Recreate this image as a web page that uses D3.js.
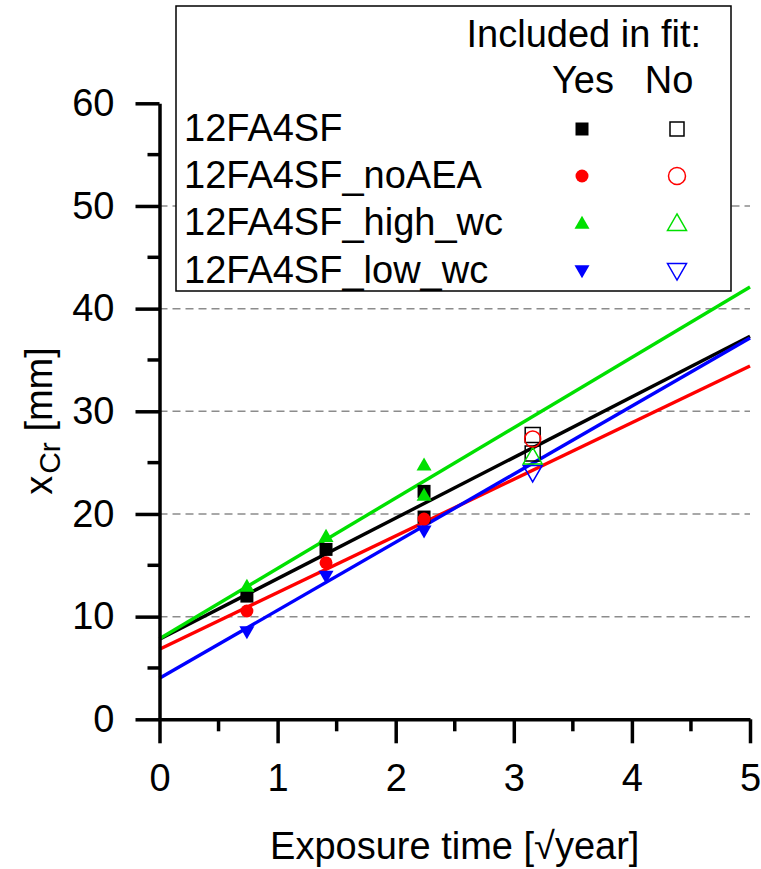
<!DOCTYPE html>
<html>
<head>
<meta charset="utf-8">
<script src="https://cdn.jsdelivr.net/npm/d3@7"></script>
<style>
  html, body { margin: 0; padding: 0; background: #fff; }
  svg { display: block; font-family: "Liberation Sans", Arial, sans-serif; }
</style>
</head>
<body>
<svg id="chart" width="761" height="869"></svg>
<script>
// Series names and colours
const seriesNames = ["12FA4SF", "12FA4SF_noAEA", "12FA4SF_high_wc", "12FA4SF_low_wc"];
const seriesColors = ["#000000", "#ff0000", "#00e000", "#0000ff"];
const seriesShapes = ["square", "circle", "triangleUp", "triangleDown"];

// Exposure time (sqrt year) and penetration depth xCr (mm)
// Points used in the linear fit
const fitX = [
  [0.74, 1.41, 2.24, 2.24],
  [0.74, 1.41, 2.24],
  [0.74, 1.41, 2.24, 2.24],
  [0.74, 1.41, 2.24]
];
const fitY = [
  [12.0, 16.55, 22.2, 19.7],
  [10.55, 15.25, 19.5],
  [13.0, 17.85, 24.8, 21.85],
  [8.5, 13.9, 18.3]
];
// Points left out of the fit
const exclX = [[3.16, 3.16], [3.16], [3.16], [3.16]];
const exclY = [[27.7, 25.9], [27.3], [25.6], [24.0]];

// Linear fit lines: xCr = intercept + slope * t
const fitIntercept = [7.8, 6.82, 7.85, 3.99];
const fitSlope = [5.9, 5.52, 6.85, 6.63];

// Axes
const xTicks = [0, 1, 2, 3, 4, 5];
const yTicks = [0, 10, 20, 30, 40, 50, 60];
const gridValues = [10, 20, 30, 40, 50];

const svg = d3.select("#chart");
const x = d3.scaleLinear().domain([0, 5]).range([159.5, 750]);
const y = d3.scaleLinear().domain([0, 60]).range([719.3, 103.3]);

// dashed grid
svg.append("g").selectAll("line").data(gridValues).join("line")
  .attr("x1", x(0)).attr("x2", x(5))
  .attr("y1", d => y(d)).attr("y2", d => y(d))
  .attr("stroke", "#8c8c8c").attr("stroke-width", 1.5)
  .attr("stroke-dasharray", "8,5");

// shape path builders
function shapePath(shape, s) {
  const h = s / 2;
  if (shape === "square") return `M${-h},${-h}H${h}V${h}H${-h}Z`;
  if (shape === "circle") return `M${h},0A${h},${h} 0 1,1 ${-h},0A${h},${h} 0 1,1 ${h},0Z`;
  const th = s * 0.87;
  if (shape === "triangleUp") return `M0,${-th * 0.55}L${h},${th * 0.45}L${-h},${th * 0.45}Z`;
  return `M0,${th * 0.55}L${h},${-th * 0.45}L${-h},${-th * 0.45}Z`;
}
const filledSize = { square: 13, circle: 13, triangleUp: 15, triangleDown: 15 };
const openSize = { square: 15, circle: 16, triangleUp: 19, triangleDown: 19 };

// fit lines
const lineGen = d3.line().x(d => x(d[0])).y(d => y(d[1]));
const fitG = svg.append("g");
seriesNames.forEach((n, i) => {
  fitG.append("path")
    .datum([0, 5].map(t => [t, fitIntercept[i] + fitSlope[i] * t]))
    .attr("d", lineGen)
    .attr("fill", "none")
    .attr("stroke", seriesColors[i])
    .attr("stroke-width", 3.4);
});

// markers
const drawOrder = [0, 3, 2, 1];
const markG = svg.append("g");
drawOrder.forEach(i => {
  const sh = seriesShapes[i];
  markG.append("g").selectAll("path")
    .data(exclX[i].map((v, k) => [v, exclY[i][k]])).join("path")
    .attr("transform", d => `translate(${x(d[0])},${y(d[1])})`)
    .attr("d", shapePath(sh, openSize[sh]))
    .attr("fill", "none").attr("stroke", seriesColors[i]).attr("stroke-width", 1.5);
});
drawOrder.forEach(i => {
  const sh = seriesShapes[i];
  markG.append("g").selectAll("path")
    .data(fitX[i].map((v, k) => [v, fitY[i][k]])).join("path")
    .attr("transform", d => `translate(${x(d[0])},${y(d[1])})`)
    .attr("d", shapePath(sh, filledSize[sh]))
    .attr("fill", seriesColors[i]);
});

// axes
const xAxis = d3.axisBottom(x).tickValues(xTicks).tickFormat(d3.format("d"))
  .tickSize(24).tickSizeOuter(0).tickPadding(21);
const yAxis = d3.axisLeft(y).tickValues(yTicks).tickFormat(d3.format("d"))
  .tickSize(24).tickSizeOuter(0).tickPadding(21);

function styleAxis(g) {
  g.select(".domain").attr("stroke", "#000").attr("stroke-width", 3.5);
  g.selectAll(".tick line").attr("stroke", "#000").attr("stroke-width", 3.5);
  g.selectAll(".tick text").attr("fill", "#000").style("font-size", "38px")
    .style("font-family", "'Liberation Sans', Arial, sans-serif");
}
// minor ticks
svg.append("g").selectAll("line").data([0.5, 1.5, 2.5, 3.5, 4.5]).join("line")
  .attr("x1", d => x(d)).attr("x2", d => x(d))
  .attr("y1", y(0)).attr("y2", y(0) + 12)
  .attr("stroke", "#000").attr("stroke-width", 3.5);
svg.append("g").selectAll("line").data([5, 15, 25, 35, 45, 55]).join("line")
  .attr("y1", d => y(d)).attr("y2", d => y(d))
  .attr("x1", x(0)).attr("x2", x(0) - 12)
  .attr("stroke", "#000").attr("stroke-width", 3.5);

svg.append("g").attr("transform", `translate(0,${y(0)})`).call(xAxis).call(styleAxis);
svg.append("g").attr("transform", `translate(${x(0)},0)`).call(yAxis).call(styleAxis);

// axis titles
svg.append("text")
  .attr("x", (x(0) + x(5)) / 2).attr("y", 859)
  .attr("text-anchor", "middle").style("font-size", "38px")
  .text("Exposure time [\u221Ayear]");

const yt = svg.append("text")
  .attr("transform", `translate(52,421) rotate(-90)`)
  .attr("text-anchor", "middle").style("font-size", "38px");
yt.append("tspan").text("x");
yt.append("tspan").attr("dx", 2).attr("dy", 8).style("font-size", "30px").text("Cr");
yt.append("tspan").attr("dy", -8).text(" [mm]");

// legend
const lg = svg.append("g");
lg.append("rect").attr("x", 176).attr("y", 6).attr("width", 555).attr("height", 285)
  .attr("fill", "#fff").attr("stroke", "#000").attr("stroke-width", 1.5);
lg.append("text").attr("x", 701).attr("y", 47).attr("text-anchor", "end")
  .style("font-size", "38px").text("Included in fit:");
lg.append("text").attr("x", 583).attr("y", 93).attr("text-anchor", "middle")
  .style("font-size", "38px").text("Yes");
lg.append("text").attr("x", 669).attr("y", 93).attr("text-anchor", "middle")
  .style("font-size", "38px").text("No");
const rowY = [127, 174, 221, 269];
const legFilled = { square: 13, circle: 13, triangleUp: 15, triangleDown: 15 };
const legOpen = { square: 14, circle: 17, triangleUp: 19, triangleDown: 19 };
seriesNames.forEach((n, i) => {
  const sh = seriesShapes[i];
  lg.append("text").attr("x", 184).attr("y", rowY[i] + 13.5)
    .style("font-size", "38px").text(n);
  lg.append("path").attr("transform", `translate(582,${rowY[i] + 2})`)
    .attr("d", shapePath(sh, legFilled[sh])).attr("fill", seriesColors[i]);
  lg.append("path").attr("transform", `translate(677,${rowY[i] + 2})`)
    .attr("d", shapePath(sh, legOpen[sh])).attr("fill", "none")
    .attr("stroke", seriesColors[i]).attr("stroke-width", 1.5);
});
</script>
</body>
</html>
